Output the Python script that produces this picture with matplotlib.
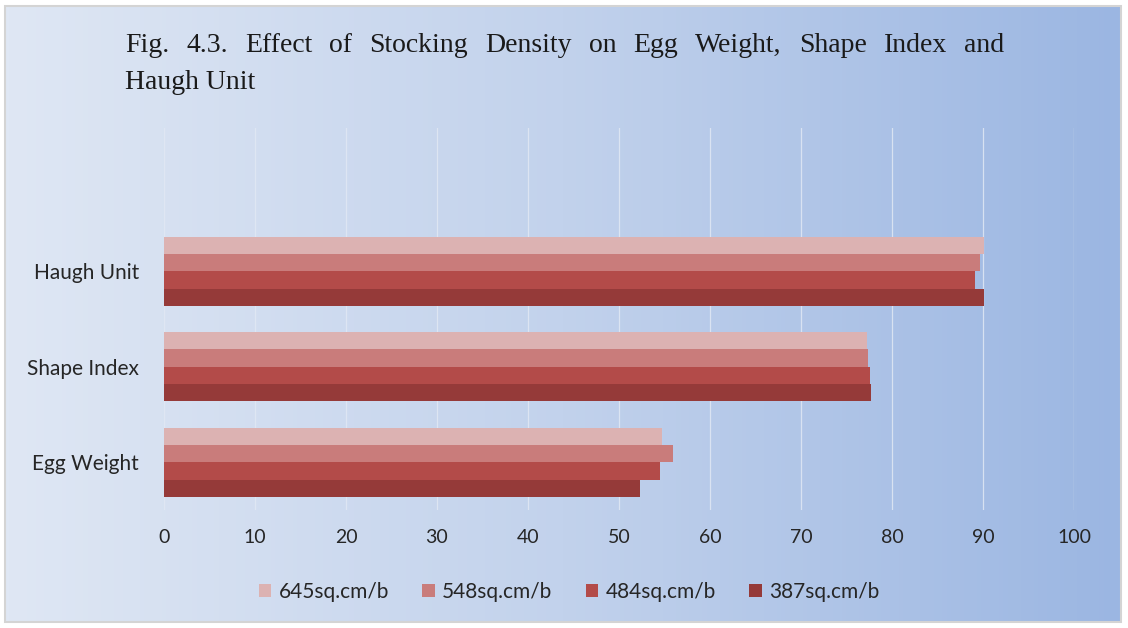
import matplotlib
matplotlib.use("Agg")
import matplotlib.pyplot as plt
import numpy as np
from matplotlib.colors import LinearSegmentedColormap
from matplotlib.patches import Rectangle

# data: traits (bottom to top) and one series per stocking density
traits = ["Egg Weight", "Shape Index", "Haugh Unit"]
densities = ["645sq.cm/b", "548sq.cm/b", "484sq.cm/b", "387sq.cm/b"]
d645 = [54.7, 77.2, 90.1]
d548 = [55.9, 77.4, 89.7]
d484 = [54.5, 77.6, 89.1]
d387 = [52.3, 77.7, 90.1]
series = [d645, d548, d484, d387]
colors = ["#dcb2b2", "#c97c7b", "#b34b49", "#953a39"]
xticks = [0, 10, 20, 30, 40, 50, 60, 70, 80, 90, 100]
title1 = "Fig. 4.3. Effect of Stocking Density on Egg Weight, Shape Index and"
title2 = "Haugh Unit"

W, H = 1128, 628
fig = plt.figure(figsize=(W / 100, H / 100), dpi=100, facecolor="white")

# gradient backdrop for the whole chart
bg = fig.add_axes([5 / W, 6 / H, 1116 / W, 616 / H], zorder=0)
cmap = LinearSegmentedColormap.from_list("bg", ["#dfe7f4", "#c2d2ec", "#9bb6e2"])
bg.imshow(np.linspace(0, 1, 256)[None, :], aspect="auto", cmap=cmap,
          extent=[0, 1, 0, 1])
bg.set_axis_off()
fig.patches.append(Rectangle((5 / W, 6 / H), 1116 / W, 616 / H,
                             transform=fig.transFigure, fill=False,
                             edgecolor="#d4d4d4", linewidth=1.5, zorder=5))

ax = fig.add_axes([164 / W, 118 / H, 910 / W, 382 / H], zorder=1)
ax.set_facecolor("none")

h = 0.181
y = np.arange(len(traits))
for i, (vals, c) in enumerate(zip(series, colors)):
    offset = (1.5 - i) * h
    ax.barh(y + offset, vals, height=h, color=c, label=densities[i], zorder=3)

ax.set_xlim(0, 100)
ax.set_ylim(-0.5, 3.5)
ax.set_xticks(xticks)
ax.set_yticks(y)
ax.set_yticklabels(traits)
ax.grid(axis="x", color="#e1e8f4", linewidth=0.9, alpha=0.85, zorder=1)
for s in ax.spines.values():
    s.set_visible(False)
ax.tick_params(axis="both", length=0, labelcolor="#262626")
ax.tick_params(axis="x", pad=14, labelsize=14)
ax.tick_params(axis="y", pad=18, labelsize=15)
for lbl in ax.get_xticklabels() + ax.get_yticklabels():
    lbl.set_fontfamily("Lato")

# justified first title line: spread the words between x=125 and x=1004
renderer = fig.canvas.get_renderer()
words = title1.split(" ")
tfont = dict(fontsize=20, family="Liberation Serif", color="#1a1a1a",
             va="baseline")
texts = [fig.text(0, 1 - 52 / H, w_, **tfont) for w_ in words]
widths = [t.get_window_extent(renderer).width for t in texts]
gap = (1004 - 125 - sum(widths)) / (len(words) - 1)
xpos = 125
for t, wd in zip(texts, widths):
    t.set_x(xpos / W)
    xpos += wd + gap
fig.text(125 / W, 1 - 89 / H, title2, **tfont)

leg = fig.legend(loc="center left", bbox_to_anchor=(240 / W, 1 - 592 / H),
                 ncol=4, frameon=False, handlelength=0.6,
                 handleheight=0.6, handletextpad=0.35, columnspacing=1.6,
                 prop={"family": "Lato", "size": 15})
for t in leg.get_texts():
    t.set_color("#262626")

fig.savefig("out.png", dpi=100)
